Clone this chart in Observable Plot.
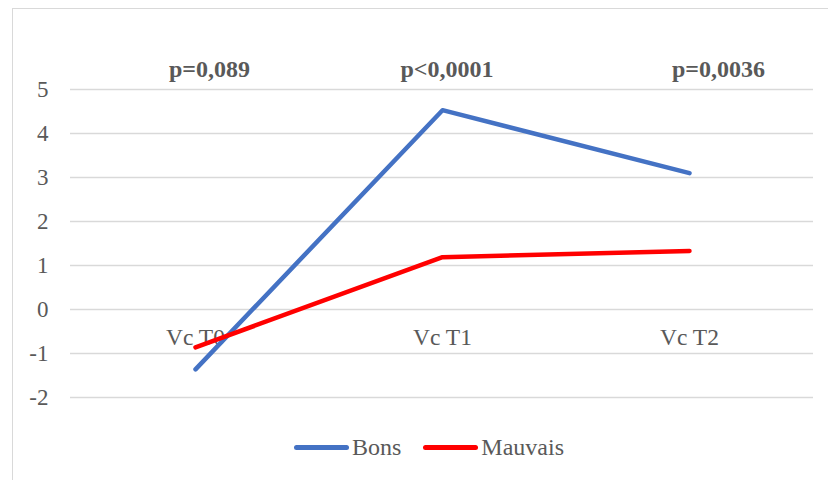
<!DOCTYPE html>
<html>
<head>
<meta charset="utf-8">
<script src="https://cdn.jsdelivr.net/npm/d3@7"></script>
<script src="https://cdn.jsdelivr.net/npm/@observablehq/plot@0.6"></script>
<style>
  html, body { margin: 0; padding: 0; background: #fff; }
  #wrap { position: relative; width: 828px; height: 480px; overflow: hidden; }
  #frame { position: absolute; left: 12px; top: 8px; width: 900px; height: 600px; border: 1.5px solid #d9d9d9; box-sizing: border-box; }
  #chart { position: absolute; left: 0; top: 0; }
  #legend { position: absolute; left: 294px; top: 434px; display: flex; align-items: center; font-family: 'Liberation Serif'; font-size: 24px; color: #595959; }
  .item { display: flex; align-items: center; margin-right: 22px; }
  .sw { width: 55px; height: 5px; border-radius: 3px; margin-right: 3px; }
</style>
</head>
<body>
<div id="wrap">
  <div id="frame"></div>
  <div id="chart"></div>
  <div id="legend"></div>
</div>
<script>
const categories = ["Vc T0", "Vc T1", "Vc T2"];
const bons = [-1.36, 4.53, 3.10];
const mauvais = [-0.86, 1.19, 1.33];
const pValues = ["p=0,089", "p<0,0001", "p=0,0036"];
const yTicks = [-2, -1, 0, 1, 2, 3, 4, 5];
const seriesNames = ["Bons", "Mauvais"];
const seriesColors = ["#4472C4", "#FF0000"];

const rows = [];
categories.forEach((c, i) => {
  rows.push({cat: c, value: bons[i], series: "Bons"});
  rows.push({cat: c, value: mauvais[i], series: "Mauvais"});
});

const font = "Liberation Serif";
// manual horizontal nudges of the p-value text boxes (layout only)
const pNudge = [14, 4.5, 29];

const pMarks = pValues.map((p, i) =>
  Plot.text([p], {x: () => categories[i], frameAnchor: "top", lineAnchor: "middle", dy: -20, dx: pNudge[i], text: d => d, fill: "#595959", fontSize: 24, fontWeight: "bold", fontFamily: font})
);

const chart = Plot.plot({
  width: 828,
  height: 480,
  marginLeft: 70,
  marginRight: 15,
  marginTop: 89,
  marginBottom: 83,
  style: {fontFamily: font, fontSize: "23px", color: "#595959", background: "transparent"},
  x: {type: "point", domain: categories, padding: 0.5, axis: null},
  y: {domain: [-2, 5], ticks: yTicks, tickSize: 0, tickPadding: 22, label: null, tickFormat: d => String(d)},
  color: {domain: seriesNames, range: seriesColors},
  marks: [
    Plot.ruleY(yTicks, {stroke: "#d9d9d9", strokeWidth: 1.5}),
    Plot.text(categories, {x: d => d, y: () => 0, dy: 28, lineAnchor: "middle", text: d => d, fill: "#595959", fontSize: 23.5, fontFamily: font}),
    Plot.line(rows, {x: "cat", y: "value", z: "series", stroke: "series", strokeWidth: 4.5, strokeLinecap: "round", strokeLinejoin: "round"}),
    ...pMarks
  ]
});
document.getElementById("chart").appendChild(chart);

const legend = document.getElementById("legend");
seriesNames.forEach((s, i) => {
  const item = document.createElement("div");
  item.className = "item";
  const sw = document.createElement("div");
  sw.className = "sw";
  sw.style.background = seriesColors[i];
  const t = document.createElement("span");
  t.textContent = s;
  item.appendChild(sw);
  item.appendChild(t);
  legend.appendChild(item);
});
</script>
</body>
</html>
